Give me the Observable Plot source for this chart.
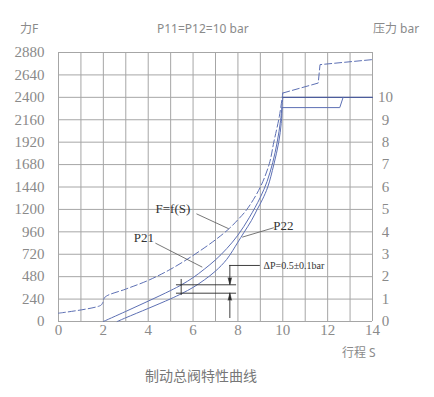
<!DOCTYPE html>
<html><head><meta charset="utf-8">
<script src="https://cdn.jsdelivr.net/npm/d3@7"></script>
<script src="https://cdn.jsdelivr.net/npm/@observablehq/plot@0.6"></script>
<style>
body{margin:0;background:#fff;}
#wrap{position:relative;width:434px;height:397px;overflow:hidden;}
.t{position:absolute;font-family:"Noto Sans","Noto Sans CJK SC",sans-serif;color:#8a8a8a;font-size:12px;line-height:14px;white-space:nowrap;}
</style></head><body>
<div id="wrap">
<div id="chart"></div>
<div class="t" style="left:20px;top:22px">力F</div>
<div class="t" style="left:157px;top:22px">P11=P12=10 bar</div>
<div class="t" style="left:373px;top:22px">压力 bar</div>
<div class="t" style="left:342px;top:346px">行程 S</div>
<div class="t" style="left:145px;top:368px;font-size:14px;line-height:16px;color:#777">制动总阀特性曲线</div>
</div>
<script>
// axes
const xTicks = [0, 2, 4, 6, 8, 10, 12, 14];
const xGrid = [0, 1, 2, 3, 4, 5, 6, 7, 8, 9, 10, 11, 12, 13, 14];
const yTicks = [0, 240, 480, 720, 960, 1200, 1440, 1680, 1920, 2160, 2400, 2640, 2880];
const barTicks = [0, 1, 2, 3, 4, 5, 6, 7, 8, 9, 10];
const forcePerBar = 240;

// F = f(S) dashed curve
const fsS = [0, 1.87, 1.97, 2.07, 3, 4, 5, 6, 7, 7.6, 8, 8.4, 9, 9.4, 9.6, 9.85, 10];
const fsF = [89, 171, 200, 260, 347, 440, 560, 707, 875, 993, 1090, 1200, 1440, 1690, 1920, 2200, 2446];
const fsTailS = [10, 11.58, 11.66, 14];
const fsTailF = [2446, 2553, 2750, 2804];

// P21
const p21S = [2, 3, 4, 5, 5.5, 6, 6.5, 7, 7.5, 8, 8.5, 9, 9.3, 9.55, 9.75, 9.9, 10];
const p21F = [0, 108, 218, 332, 395, 470, 560, 660, 780, 925, 1110, 1330, 1500, 1700, 1920, 2150, 2400];
const p21TailS = [10, 14];
const p21TailF = [2400, 2400];

// P22
const p22S = [2.62, 3, 4, 5, 5.5, 6, 6.5, 7, 7.5, 8, 8.26, 8.6, 8.86, 9.1, 9.33, 9.6, 9.82, 9.93, 9.97];
const p22F = [0, 40, 140, 243, 300, 365, 445, 540, 665, 850, 950, 1080, 1200, 1310, 1440, 1680, 1920, 2120, 2290];
const p22TailS = [9.97, 12.54, 12.69];
const p22TailF = [2290, 2290, 2400];

// labels
const labelText = ["F=f(S)", "P21", "P22"];
const labelS = [5.10, 3.81, 10.03];
const labelF = [1210, 900, 1028];
const leaderS1 = [6.15, 4.32, 9.6];
const leaderF1 = [1153, 839, 1004];
const leaderS2 = [7.59, 6.41, 8.19];
const leaderF2 = [993, 582, 903];

// ΔP annotation
const dpText = "ΔP=0.5±0.1bar";
const dpArrowS = 7.64;
const dpTopF = 600, dpBottomF = 32;
const dpLevelF = [393, 303];
const dpLevelS = [5.26, 7.94];
const dpMarkS = 5.47;
const dpMarkF = [450, 278];
const dpLeaderEndS = 9.0;
const dpTextS = 9.14;

const pts = (S, F) => S.map((s, i) => ({S: s, F: F[i]}));
const blue = "#5d70b4";
const dark = "#2a2a2a";
const serif = "Liberation Serif";
const tickStyle = {fontSize: 15, fontFamily: serif, fill: "#8a8a8a"};

const chart = Plot.plot({
  width: 434, height: 397,
  marginLeft: 58, marginRight: 62, marginTop: 52, marginBottom: 76,
  x: {domain: [0, 14], axis: null},
  y: {domain: [0, 2880], axis: null},
  style: {fontFamily: serif, background: "#fff"},
  marks: [
    Plot.ruleX(xGrid, {stroke: "#a6a6a6", strokeWidth: 1}),
    Plot.ruleY(yTicks, {stroke: "#a6a6a6", strokeWidth: 1}),
    // tick labels (drawn from the scales)
    Plot.text(xTicks, {x: d => d, frameAnchor: "bottom", dy: 13, text: d => String(d), ...tickStyle}),
    Plot.text(yTicks, {y: d => d, frameAnchor: "left", dx: -14, textAnchor: "end", text: d => String(d), ...tickStyle}),
    Plot.text(barTicks, {y: d => d * forcePerBar, frameAnchor: "right", dx: 13, textAnchor: "middle", text: d => String(d), ...tickStyle}),
    // curves
    Plot.line(pts(fsS, fsF), {x: "S", y: "F", curve: "catmull-rom", stroke: blue, strokeWidth: 1, strokeDasharray: "7,3"}),
    Plot.line(pts(fsTailS, fsTailF), {x: "S", y: "F", stroke: blue, strokeWidth: 1, strokeDasharray: "7,3"}),
    Plot.line(pts(p21S, p21F), {x: "S", y: "F", curve: "catmull-rom", stroke: blue, strokeWidth: 1}),
    Plot.line(pts(p21TailS, p21TailF), {x: "S", y: "F", stroke: "#4c5c9c", strokeWidth: 1.2}),
    Plot.line(pts(p22S, p22F), {x: "S", y: "F", curve: "catmull-rom", stroke: blue, strokeWidth: 1}),
    Plot.line(pts(p22TailS, p22TailF), {x: "S", y: "F", stroke: blue, strokeWidth: 1}),
    // labels + leaders
    Plot.link(labelText, {x1: (d, i) => leaderS1[i], y1: (d, i) => leaderF1[i], x2: (d, i) => leaderS2[i], y2: (d, i) => leaderF2[i], stroke: "#555", strokeWidth: 0.8}),
    Plot.text(labelText, {x: (d, i) => labelS[i], y: (d, i) => labelF[i], text: d => d, fontSize: 13, fill: "#333", fontFamily: serif}),
    // ΔP annotation
    Plot.ruleY(dpLevelF, {x1: dpLevelS[0], x2: dpLevelS[1], stroke: dark, strokeWidth: 0.9}),
    Plot.ruleX([dpMarkS], {y1: dpMarkF[0], y2: dpMarkF[1], stroke: dark, strokeWidth: 0.9}),
    Plot.ruleX([dpArrowS], {y1: dpTopF, y2: dpLevelF[0], stroke: dark, strokeWidth: 0.9}),
    Plot.ruleX([dpArrowS], {y1: dpBottomF, y2: dpLevelF[1], stroke: dark, strokeWidth: 0.9}),
    Plot.ruleY([dpTopF], {x1: dpArrowS, x2: dpLeaderEndS, stroke: dark, strokeWidth: 0.9}),
    Plot.vector([dpLevelF[0]], {x: dpArrowS, y: d => d, rotate: 180, length: 7, r: 1.8, shape: "spike", anchor: "end", fill: dark, stroke: dark, strokeWidth: 0.5}),
    Plot.vector([dpLevelF[1]], {x: dpArrowS, y: d => d, rotate: 0, length: 7, r: 1.8, shape: "spike", anchor: "end", fill: dark, stroke: dark, strokeWidth: 0.5}),
    Plot.text([dpText], {x: dpTextS, y: dpTopF, text: d => d, textAnchor: "start", fontSize: 10, fill: "#333", fontFamily: serif})
  ]
});
document.getElementById("chart").appendChild(chart);
</script>
</body></html>
